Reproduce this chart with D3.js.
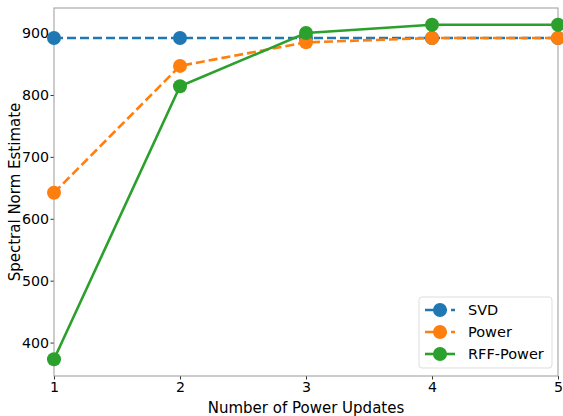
<!DOCTYPE html>
<html>
<head>
<meta charset="utf-8">
<script src="https://cdn.jsdelivr.net/npm/d3@7"></script>
<style>
  html, body { margin: 0; padding: 0; background: #fff; }
  text { font-family: "DejaVu Sans", sans-serif; fill: #000; }
</style>
</head>
<body>
<svg id="chart" width="563" height="416"></svg>
<script>
// Power-update iterations on the x axis
const updates = [1, 2, 3, 4, 5];

// Spectral norm estimates per method
const svdValues = [892, 892, 892, 892, 892];
const powerValues = [642, 847, 885, 892, 892];
const rffPowerValues = [373, 814, 900, 913.5, 913.5];

const yTicks = [400, 500, 600, 700, 800, 900];
const xTicks = [1, 2, 3, 4, 5];

const series = [
  { name: "SVD", values: svdValues, color: "#1f77b4", dash: "9,4" },
  { name: "Power", values: powerValues, color: "#ff7f0e", dash: "9,4" },
  { name: "RFF-Power", values: rffPowerValues, color: "#2ca02c", dash: null }
];

const svg = d3.select("#chart");
const margin = { left: 54, right: 5, top: 8, bottom: 40 };
const W = 563, H = 416;
const TICK_FONT = "14.2px";
const LABEL_FONT = "15px";

const x = d3.scaleLinear().domain([1, 5]).range([margin.left, W - margin.right]);
const y = d3.scaleLinear().domain([346, 940.5]).range([H - margin.bottom, margin.top]);

// Axes
const xAxis = svg.append("g")
  .attr("transform", `translate(0,${H - margin.bottom})`)
  .call(d3.axisBottom(x).tickValues(xTicks).tickFormat(d3.format("d")).tickSize(3.5).tickPadding(2.5));
const yAxis = svg.append("g")
  .attr("transform", `translate(${margin.left},0)`)
  .call(d3.axisLeft(y).tickValues(yTicks).tickFormat(d3.format("d")).tickSize(3.5).tickPadding(1.5));

[xAxis, yAxis].forEach(g => {
  g.select(".domain").remove();
  g.selectAll(".tick line").attr("stroke", "#000").attr("stroke-width", 0.8);
  g.selectAll(".tick text").style("font-size", TICK_FONT).attr("fill", "#000");
});

// Frame
svg.append("rect")
  .attr("x", margin.left).attr("y", margin.top)
  .attr("width", W - margin.right - margin.left)
  .attr("height", H - margin.bottom - margin.top)
  .attr("fill", "none").attr("stroke", "#999").attr("stroke-width", 1);

const line = d3.line().x((d, i) => x(updates[i])).y(d => y(d));

const plot = svg.append("g");
series.forEach(s => {
  plot.append("path")
    .datum(s.values)
    .attr("d", line)
    .attr("fill", "none")
    .attr("stroke", s.color)
    .attr("stroke-width", 2.6)
    .attr("stroke-dasharray", s.dash);
  plot.selectAll(null)
    .data(s.values)
    .enter().append("circle")
    .attr("cx", (d, i) => x(updates[i]))
    .attr("cy", d => y(d))
    .attr("r", 7)
    .attr("fill", s.color);
});

// Axis labels
svg.append("text")
  .attr("x", (margin.left + W - margin.right) / 2)
  .attr("y", 413)
  .attr("text-anchor", "middle")
  .style("font-size", LABEL_FONT)
  .text("Number of Power Updates");

svg.append("text")
  .attr("transform", `translate(19.5,${(margin.top + H - margin.bottom) / 2}) rotate(-90)`)
  .attr("text-anchor", "middle")
  .style("font-size", LABEL_FONT)
  .text("Spectral Norm Estimate");

// Legend
const legend = svg.append("g");
legend.append("rect")
  .attr("x", 419).attr("y", 297).attr("width", 133).attr("height", 71)
  .attr("rx", 3)
  .attr("fill", "#fff").attr("fill-opacity", 0.8)
  .attr("stroke", "#ddd");
series.forEach((s, i) => {
  const cy = 310 + i * 22;
  legend.append("line")
    .attr("x1", 425).attr("x2", 455).attr("y1", cy).attr("y2", cy)
    .attr("stroke", s.color).attr("stroke-width", 2.6)
    .attr("stroke-dasharray", s.dash ? "9,4" : null);
  legend.append("circle").attr("cx", 440).attr("cy", cy).attr("r", 7).attr("fill", s.color);
  legend.append("text")
    .attr("x", 468).attr("y", cy)
    .attr("dy", "0.36em")
    .style("font-size", "14.5px")
    .text(s.name);
});
</script>
</body>
</html>
